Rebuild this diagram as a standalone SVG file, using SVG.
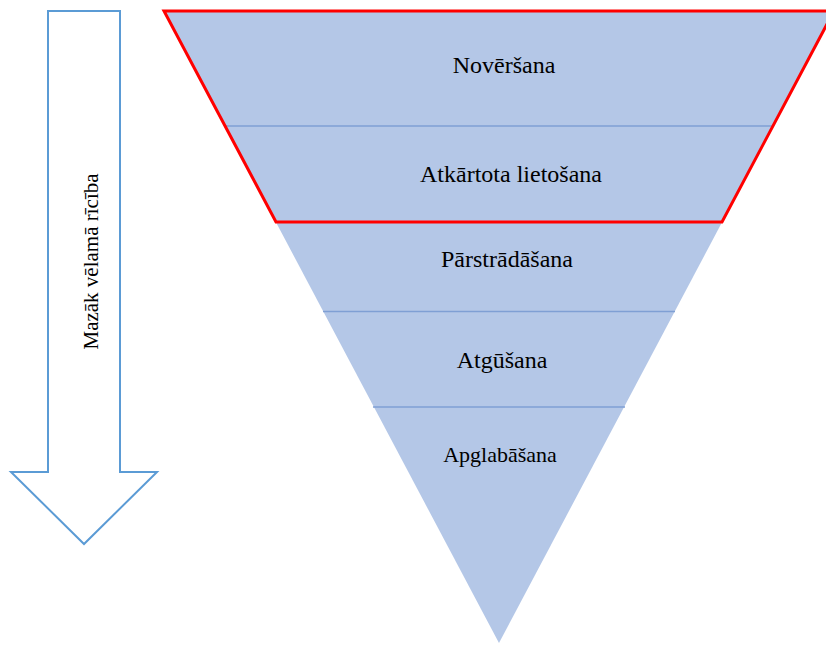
<svg xmlns="http://www.w3.org/2000/svg" width="826" height="645" viewBox="0 0 826 645">
<style>
.lbl{font-family:"Liberation Serif","Times New Roman",serif;fill:#000;text-anchor:middle}
.div{stroke:#7F9FD4;stroke-width:1.6;fill:none}
</style>
<rect width="826" height="645" fill="#fff"/>
<g id="pyramid">
<polygon points="164,11 834,11 499,643" fill="#B4C7E7"/>
<line class="div" x1="225" y1="126" x2="773" y2="126"/>
<line class="div" x1="323" y1="311.5" x2="675" y2="311.5"/>
<line class="div" x1="373" y1="407" x2="625" y2="407"/>
<polygon points="164,11 834,11 722,222 276,222" fill="none" stroke="#FF0000" stroke-width="3" stroke-linejoin="miter"/>
</g>
<g id="level1"><text class="lbl" x="504" y="73" font-size="24">Novēršana</text></g>
<g id="level2"><text class="lbl" x="511" y="182" font-size="24">Atkārtota lietošana</text></g>
<g id="level3"><text class="lbl" x="507" y="267" font-size="24">Pārstrādāšana</text></g>
<g id="level4"><text class="lbl" x="502" y="368" font-size="24">Atgūšana</text></g>
<g id="level5"><text class="lbl" x="500" y="462" font-size="22">Apglabāšana</text></g>
<g id="arrow">
<polygon points="48,11 120,11 120,472 157,472 84,544 11,472 48,472" fill="#fff" stroke="#5B9BD5" stroke-width="2"/>
<text class="lbl" x="0" y="0" font-size="21" transform="translate(98,261.5) rotate(-90)">Mazāk vēlamā rīcība</text>
</g>
<g id="connectors"></g>
</svg>
